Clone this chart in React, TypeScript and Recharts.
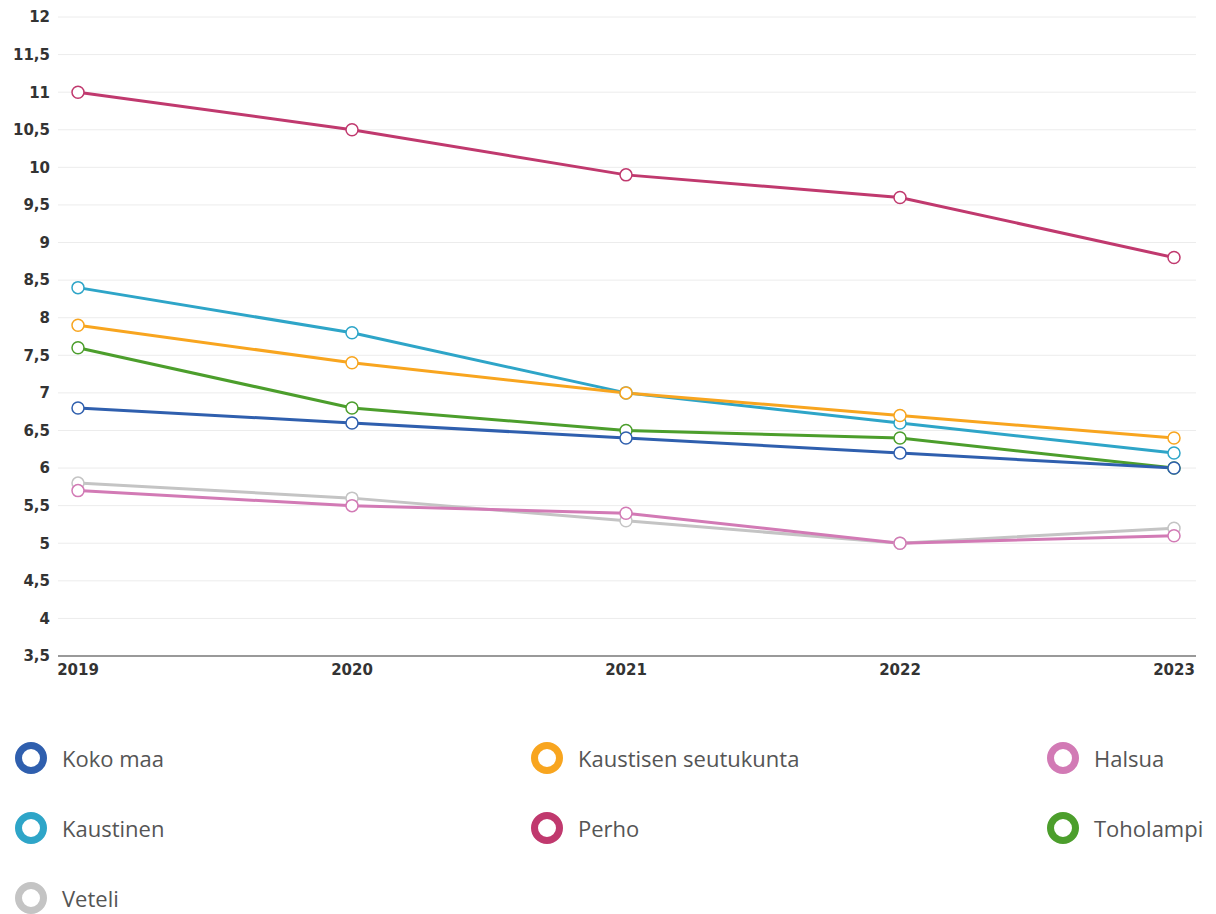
import React from 'react';
import { LineChart, Line, XAxis, YAxis, CartesianGrid } from 'recharts';

const years = ['2019', '2020', '2021', '2022', '2023'];
const kokoMaa = [6.8, 6.6, 6.4, 6.2, 6.0];
const kaustisenSeutukunta = [7.9, 7.4, 7.0, 6.7, 6.4];
const halsua = [5.7, 5.5, 5.4, 5.0, 5.1];
const kaustinen = [8.4, 7.8, 7.0, 6.6, 6.2];
const perho = [11.0, 10.5, 9.9, 9.6, 8.8];
const toholampi = [7.6, 6.8, 6.5, 6.4, 6.0];
const veteli = [5.8, 5.6, 5.3, 5.0, 5.2];
const yTicks = [3.5, 4, 4.5, 5, 5.5, 6, 6.5, 7, 7.5, 8, 8.5, 9, 9.5, 10, 10.5, 11, 11.5, 12];

const series = [
  { key: 'kokoMaa', name: 'Koko maa', color: '#2f5fae', values: kokoMaa },
  { key: 'kaustisen', name: 'Kaustisen seutukunta', color: '#f8a51f', values: kaustisenSeutukunta },
  { key: 'halsua', name: 'Halsua', color: '#d27ab5', values: halsua },
  { key: 'kaustinen', name: 'Kaustinen', color: '#2ea5c8', values: kaustinen },
  { key: 'perho', name: 'Perho', color: '#c0396e', values: perho },
  { key: 'toholampi', name: 'Toholampi', color: '#4c9e2c', values: toholampi },
  { key: 'veteli', name: 'Veteli', color: '#c4c4c4', values: veteli },
];

const data = years.map((y, i) => {
  const row: Record<string, any> = { year: y };
  series.forEach((s) => {
    row[s.key] = s.values[i];
  });
  return row;
});

const drawOrder = [...series].reverse();

const tickStyle = { fill: '#333', fontSize: 15, fontFamily: 'DejaVu Sans', fontWeight: 'bold' };

export default function App() {
  return (
    <div style={{ width: 1200 }}>
      <LineChart width={1200} height={680} data={data} margin={{ top: 9, right: 12, left: 0, bottom: 2 }}>
        <CartesianGrid vertical={false} stroke="#ececec" strokeWidth={1} />
        <XAxis
          dataKey="year"
          padding={{ left: 20, right: 22 }}
          axisLine={{ stroke: '#999', strokeWidth: 2 }}
          tickLine={false}
          height={30}
          tick={tickStyle}
        />
        <YAxis
          domain={[3.5, 12]}
          ticks={yTicks}
          interval={0}
          width={50}
          axisLine={false}
          tickLine={false}
          tickFormatter={(v: number) => String(v).replace('.', ',')}
          tick={tickStyle}
        />
        {drawOrder.map((s) => (
          <Line
            key={s.key}
            dataKey={s.key}
            name={s.name}
            stroke={s.color}
            strokeWidth={3}
            isAnimationActive={false}
            dot={{ r: 6, fill: '#fff', stroke: s.color, strokeWidth: 1.5 }}
            activeDot={false}
          />
        ))}
      </LineChart>
      <div style={{ marginTop: 35, display: 'flex', flexWrap: 'wrap', width: 1548 }}>
        {series.map((s) => (
          <div
            key={s.key}
            style={{ width: 516, height: 70, display: 'flex', alignItems: 'center', paddingLeft: 6, boxSizing: 'border-box' }}
          >
            <svg width={34} height={34} style={{ flex: 'none' }}>
              <circle cx={17} cy={17} r={12.5} fill="#fff" stroke={s.color} strokeWidth={7} />
            </svg>
            <span style={{ marginLeft: 14, fontFamily: 'Open Sans', fontSize: 22, color: '#555' }}>{s.name}</span>
          </div>
        ))}
      </div>
    </div>
  );
}
